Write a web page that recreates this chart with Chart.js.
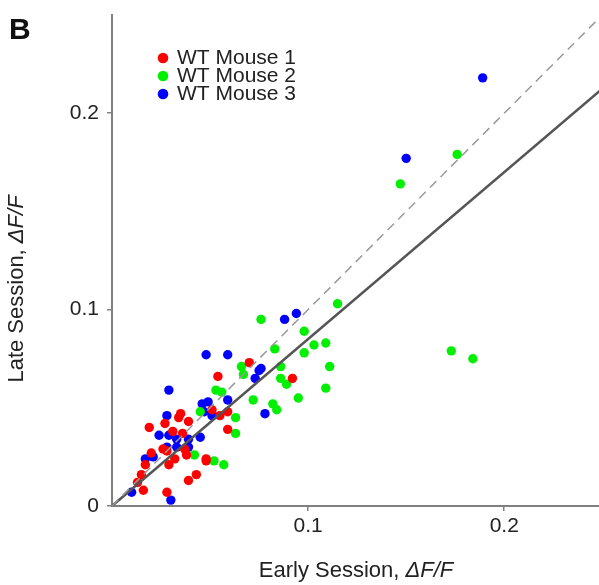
<!DOCTYPE html>
<html>
<head>
<meta charset="utf-8">
<script src="https://cdn.jsdelivr.net/npm/chart.js@4"></script>
<style>
    html, body { margin: 0; padding: 0; background: #fff; overflow: hidden; }
    #myChartContainer { width: 607px; height: 585px; }
</style>
</head>
<body>
<div id="myChartContainer"><canvas id="myChart" width="607" height="585"></canvas></div>
<script>
// series values (Early Session dF/F vs Late Session dF/F)
var mouse1X = [0.070,0.092,0.054,0.051,0.055,0.059,0.059,0.035,0.034,0.039,0.027,0.019,0.031,0.036,0.037,0.026,0.028,0.020,0.038,0.032,0.029,0.017,0.048,0.048,0.015,0.013,0.016,0.043,0.039,0.028];
var mouse1Y = [0.073,0.065,0.066,0.049,0.046,0.048,0.039,0.047,0.045,0.043,0.042,0.040,0.038,0.037,0.029,0.029,0.028,0.027,0.026,0.024,0.021,0.021,0.024,0.023,0.016,0.012,0.008,0.016,0.013,0.007];
var mouse2X = [0.115,0.076,0.098,0.103,0.109,0.083,0.098,0.066,0.086,0.111,0.067,0.086,0.089,0.109,0.095,0.072,0.082,0.084,0.063,0.063,0.053,0.056,0.045,0.042,0.052,0.057,0.176,0.147,0.173,0.184];
var mouse2Y = [0.103,0.095,0.089,0.082,0.083,0.080,0.078,0.071,0.071,0.071,0.067,0.065,0.062,0.060,0.055,0.054,0.052,0.049,0.045,0.037,0.059,0.058,0.048,0.026,0.023,0.021,0.179,0.164,0.079,0.075];
var mouse3X = [0.094,0.088,0.076,0.075,0.073,0.078,0.048,0.059,0.029,0.059,0.046,0.049,0.047,0.051,0.028,0.024,0.029,0.033,0.039,0.045,0.028,0.033,0.039,0.021,0.017,0.010,0.030,0.150,0.189];
var mouse3Y = [0.098,0.095,0.070,0.069,0.065,0.047,0.077,0.077,0.059,0.054,0.052,0.053,0.048,0.046,0.046,0.036,0.036,0.034,0.034,0.035,0.030,0.030,0.030,0.025,0.024,0.007,0.003,0.177,0.218];

var seriesLabels = ['WT Mouse 1', 'WT Mouse 2', 'WT Mouse 3'];
var seriesColors = ['#ff0000', '#00f000', '#0000ff'];

// reference lines
var unityX = [0, 0.25];
var unityY = [0, 0.25];
var fitX = [0, 0.25];
var fitY = [0, 0.2125];

// tick labels
var xTicks = [0.1, 0.2];
var yTicks = [0, 0.1, 0.2];

function toPoints(xs, ys) {
    var pts = [];
    for (var i = 0; i < xs.length; i++) pts.push({x: xs[i], y: ys[i]});
    return pts;
}

var FONT = '"Liberation Sans", Arial, sans-serif';

var textPlugin = {
    id: 'panelText',
    afterDraw: function(chart) {
        var ctx = chart.ctx;
        ctx.save();
        ctx.fillStyle = '#111';
        ctx.textBaseline = 'alphabetic';

        // panel letter
        ctx.font = 'bold 30px ' + FONT;
        ctx.textAlign = 'left';
        ctx.fillText('B', 9, 39);

        // legend
        ctx.font = '21px ' + FONT;
        for (var i = 0; i < seriesLabels.length; i++) {
            var y = 64 + i * 18;
            ctx.fillStyle = seriesColors[i];
            ctx.beginPath();
            ctx.arc(163, y - 6, 5.3, 0, Math.PI * 2);
            ctx.fill();
            ctx.fillStyle = '#222';
            ctx.fillText(seriesLabels[i], 177, y);
        }

        // axis titles with italic dF/F
        function mixed(plain, ital, cx, cy) {
            ctx.font = '22px ' + FONT;
            var w1 = ctx.measureText(plain).width;
            ctx.font = 'italic 22px ' + FONT;
            var w2 = ctx.measureText(ital).width;
            var x0 = cx - (w1 + w2) / 2;
            ctx.textAlign = 'left';
            ctx.fillStyle = '#222';
            ctx.font = '22px ' + FONT;
            ctx.fillText(plain, x0, cy);
            ctx.font = 'italic 22px ' + FONT;
            ctx.fillText(ital, x0 + w1, cy);
        }
        mixed('Early Session, ', '\u0394F/F', 356, 577);

        ctx.save();
        ctx.translate(23, 289);
        ctx.rotate(-Math.PI / 2);
        mixed('Late Session, ', '\u0394F/F', 0, 0);
        ctx.restore();

        ctx.restore();
    }
};

document.addEventListener('DOMContentLoaded', function(){
    var datasets = [];
    datasets.push({
        label: 'unity',
        data: toPoints(unityX, unityY),
        showLine: true,
        borderColor: '#999999',
        borderWidth: 1.5,
        borderDash: [9, 6],
        pointRadius: 0,
        order: 0
    });
    datasets.push({
        label: 'fit',
        data: toPoints(fitX, fitY),
        showLine: true,
        borderColor: '#555555',
        borderWidth: 2.5,
        pointRadius: 0,
        order: 0
    });
    var xs = [mouse1X, mouse2X, mouse3X];
    var ys = [mouse1Y, mouse2Y, mouse3Y];
    for (var i = 0; i < 3; i++) {
        datasets.push({
            label: seriesLabels[i],
            data: toPoints(xs[i], ys[i]),
            backgroundColor: seriesColors[i],
            borderWidth: 0,
            pointRadius: 4.7,
            order: 1
        });
    }

    var ctx = document.getElementById('myChart').getContext('2d');
    var myChart = new Chart(ctx, {
        type: 'scatter',
        data: { datasets: datasets },
        options: {
            responsive: false,
            animation: false,
            layout: { padding: { top: 15, right: 0, left: 0, bottom: 0 } },
            plugins: {
                legend: { display: false },
                tooltip: { enabled: false }
            },
            scales: {
                x: {
                    type: 'linear',
                    min: 0,
                    max: 0.25,
                    afterBuildTicks: function(axis) {
                        axis.ticks = xTicks.map(function(v){ return {value: v}; });
                    },
                    afterFit: function(axis) {
                        axis.height = 79;
                        axis.paddingLeft = 0;
                        axis.paddingRight = 0;
                    },
                    border: { display: true, color: '#808080', width: 2 },
                    grid: { drawOnChartArea: false, drawTicks: true, tickLength: 5, color: '#808080', lineWidth: 1.5 },
                    ticks: {
                        color: '#222',
                        padding: 3,
                        maxRotation: 0,
                        font: { family: FONT, size: 21 },
                        callback: function(v) { return String(v); }
                    }
                },
                y: {
                    type: 'linear',
                    min: 0,
                    max: 0.25,
                    afterBuildTicks: function(axis) {
                        axis.ticks = yTicks.map(function(v){ return {value: v}; });
                    },
                    afterFit: function(axis) {
                        axis.width = 112;
                        axis.paddingTop = 0;
                        axis.paddingBottom = 0;
                    },
                    border: { display: true, color: '#808080', width: 2 },
                    grid: { drawOnChartArea: false, drawTicks: true, tickLength: 5, color: '#808080', lineWidth: 1.5 },
                    ticks: {
                        color: '#222',
                        padding: 8,
                        font: { family: FONT, size: 21 },
                        callback: function(v) { return String(v); }
                    }
                }
            }
        },
        plugins: [textPlugin]
    });
    document.getElementById('myChartContainer').appendChild(myChart.canvas);
});
</script>
</body>
</html>
